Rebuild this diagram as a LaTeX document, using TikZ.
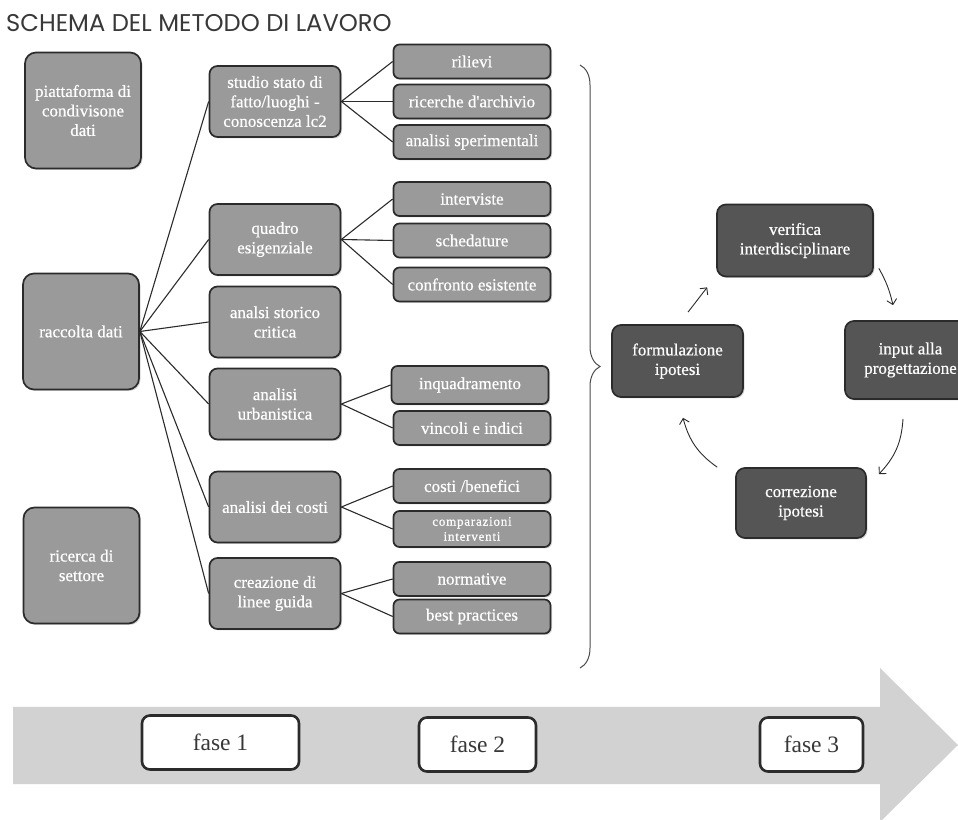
\documentclass[tikz,border=0pt]{standalone}
\usepackage{fontspec}
\setmainfont{Liberation Serif}
\newfontfamily\titlefont{Poppins}
\newfontfamily\boxfont[FakeBold=0.6]{Liberation Serif}
\usetikzlibrary{shadows,decorations.pathreplacing,arrows.meta}
\definecolor{boxgray}{HTML}{9A9A9A}
\definecolor{darkbox}{HTML}{555555}
\definecolor{edgegray}{HTML}{2B2B2B}
\definecolor{bandgray}{HTML}{D2D2D2}

\begin{document}
\begin{tikzpicture}[x=1pt,y=1pt,
  gbox/.style={draw=edgegray, line width=1.7pt, fill=boxgray, rounded corners=6pt, text=white, align=center, inner sep=1pt,
    font=\boxfont\fontsize{17}{19.5}\selectfont, drop shadow={shadow xshift=1.5pt,shadow yshift=-1.5pt,opacity=.3}},
  srcbox/.style={gbox, minimum width=116pt, minimum height=116pt, rounded corners=11pt},
  midbox/.style={gbox, minimum width=131pt, minimum height=71pt, rounded corners=8pt},
  leaf/.style={gbox, minimum width=157pt, minimum height=34pt},
  cycbox/.style={gbox, fill=darkbox, minimum height=72pt, rounded corners=9pt},
  fasebox/.style={draw=edgegray, line width=2.6pt, fill=white, rounded corners=8pt, text=black!78,
    font=\fontsize{23.5}{26}\selectfont, minimum height=54pt},
  link/.style={edgegray, line width=1.1pt},
  cyc/.style={edgegray, line width=0.9pt, -{Straight Barb[length=5pt,width=10pt]}}
]
\useasboundingbox (0,0) rectangle (958,819);
\clip (0,0) rectangle (958,819);

\fill[bandgray] (13,112) -- (880,112) -- (880,151) -- (958,74) -- (880,-3) -- (880,35) -- (13,35) -- cycle;
\node[fasebox, minimum width=157pt] (f1) at (220.5,76.5) {fase 1};
\node[fasebox, minimum width=117pt] (f2) at (477.5,74.5) {fase 2};
\node[fasebox, minimum width=103pt] (f3) at (811.5,74.5) {fase 3};

\node[anchor=base west, inner sep=0pt, font=\titlefont\fontsize{24.2}{26}\selectfont, text=black!78] (title) at (6,787) {SCHEMA DEL METODO DI LAVORO};

\node[srcbox] (pc) at (83,708.5) {piattaforma di\\condivisone\\dati};
\node[srcbox] (rd) at (81,487.5) {raccolta dati};
\node[srcbox] (rs) at (81.5,253.5) {ricerca di\\settore};

\node[midbox] (sd) at (275,717.5) {studio stato di\\fatto/luoghi -\\conoscenza lc2};
\node[midbox] (qe) at (275,579.5) {quadro\\esigenziale};
\node[midbox] (sc) at (275,497) {analsi storico\\critica};
\node[midbox] (ua) at (275,415) {analisi\\urbanistica};
\node[midbox] (ac) at (275,312) {analisi dei costi};
\node[midbox] (cl) at (275,225.5) {creazione di\\linee guida};

\foreach \n/\yy/\t in {ril/757.5/rilievi, arc/717.5/ricerche d'archivio, spe/677/analisi sperimentali,
  int/620/interviste, sch/578.5/schedature, con/534.5/confronto esistente,
  vin/391/vincoli e indici, cb/333/{costi /benefici}, nor/240/normative, bp/202.5/best practices}
  \node[leaf] (\n) at (472,\yy) {\t};
\node[leaf, minimum height=38pt] (inq) at (470,434) {inquadramento};
\node[leaf, minimum height=36pt, font=\boxfont\fontsize{13}{15}\selectfont\addfontfeature{LetterSpace=6}] (cmp) at (472,290) {comparazioni\\interventi};

\foreach \m in {sd,qe,sc,ua,ac,cl}
  \draw[link] (rd.east) -- (\m.west);
\foreach \a/\b in {sd/ril,sd/arc,sd/spe,qe/int,qe/sch,qe/con,ua/inq,ua/vin,ac/cb,ac/cmp,cl/nor,cl/bp}
  \draw[link] (\a.east) -- (\b.west);

\draw[edgegray!85, line width=1pt, decorate, decoration={brace, amplitude=20pt}] (580,754) -- (580,151);

\node[cycbox, minimum width=156pt] (vi) at (795,578.5) {verifica\\interdisciplinare};
\node[cycbox, minimum width=131pt] (fi) at (677.5,458) {formulazione\\ipotesi};
\node[cycbox, minimum width=131pt, minimum height=78pt] (ip) at (910.5,459) {input alla\\progettazione};
\node[cycbox, minimum width=130pt, minimum height=70pt] (ci) at (801,316) {correzione\\ipotesi};

\draw[cyc] ([shift={(10.5,12)}]fi.north) -- ([shift={(-9,-10)}]vi.south west);
\draw[cyc] ([shift={(5,9)}]vi.south east) to[bend left=8] ([shift={(-17.5,15)}]ip.north);
\draw[cyc] ([shift={(-7.5,-19)}]ip.south) to[bend left=20] ([shift={(12,-7)}]ci.north east);
\draw[cyc] ([shift={(-18,0)}]ci.north west) to[bend left=20] ([shift={(5.5,-20)}]fi.south);
\end{tikzpicture}
\end{document}
